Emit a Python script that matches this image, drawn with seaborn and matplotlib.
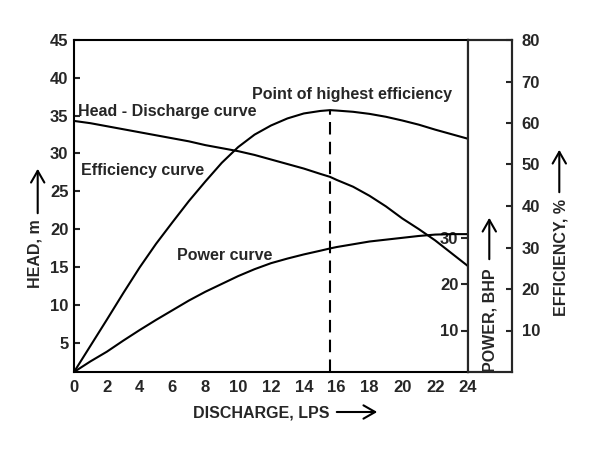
import numpy as np
import matplotlib
matplotlib.use("Agg")
import matplotlib.pyplot as plt
import seaborn as sns

# values
discharge = [0, 1, 2, 3, 4, 5, 6, 7, 8, 9, 10, 11, 12, 13, 14, 15, 15.6,
             16, 17, 18, 19, 20, 21, 22, 23, 24]
head = [34.3, 34.0, 33.6, 33.2, 32.8, 32.4, 32.0, 31.6, 31.1, 30.7, 30.3, 29.8,
        29.2, 28.6, 28.0, 27.3, 26.9, 26.5, 25.6, 24.4, 23.0, 21.4, 20.0, 18.5,
        16.8, 15.1]
efficiency = [0, 6.3, 12.6, 19.0, 25.2, 30.9, 36.1, 41.2, 45.9, 50.4, 54.2, 57.2,
              59.4, 61.1, 62.3, 62.9, 63.1, 63.0, 62.7, 62.2, 61.5, 60.6, 59.6,
              58.4, 57.3, 56.2]
power = [1.0, 3.3, 5.4, 7.8, 10.1, 12.3, 14.4, 16.5, 18.4, 20.1, 21.8, 23.3,
         24.6, 25.6, 26.5, 27.3, 27.8, 28.1, 28.7, 29.3, 29.7, 30.1, 30.5, 30.8,
         30.9, 30.9]
best_q = 15.6
best_eff = 63.1

x_ticks = list(range(0, 25, 2))
head_ticks = list(range(5, 50, 5))
eff_ticks = list(range(10, 90, 10))
power_ticks = [10, 20, 30]

sns.set_style("white")
plt.rcParams['font.family'] = ['Liberation Sans', 'DejaVu Sans']
plt.rcParams['font.weight'] = 'bold'

W, H = 600, 450


def fx(px):
    return px / W


def fy(py):
    return 1 - py / H


fig = plt.figure(figsize=(6, 4.5), dpi=100)
ax = fig.add_axes([fx(74), fy(372), (468 - 74) / W, 332 / H])
box = fig.add_axes([fx(468), fy(372), 44 / W, 332 / H])

# main axis: head
sns.lineplot(x=discharge, y=head, ax=ax, color='black', lw=1.5)
ax.set_xlim(0, 24)
ax.set_ylim(1.1, 45)
ax.set_xticks(x_ticks)
ax.set_yticks(head_ticks)
ax.tick_params(direction='in', length=4, width=1.5, labelsize=12)
ax.tick_params(axis='x', pad=6)
ax.tick_params(axis='y', pad=4)

# hidden axes for efficiency and power
ax_eff = ax.twinx()
sns.lineplot(x=discharge, y=efficiency, ax=ax_eff, color='black', lw=1.5)
ax_eff.vlines(best_q, 0, best_eff, color='black', lw=1.5, linestyles=(0, (6, 3.5)))
ax_eff.set_ylim(0, 80)
ax_eff.axis('off')

ax_pow = ax.twinx()
sns.lineplot(x=discharge, y=power, ax=ax_pow, color='black', lw=1.5)
ax_pow.set_ylim(1, 73)
ax_pow.axis('off')

for a in (ax, box):
    for s in a.spines.values():
        s.set_linewidth(1.5)
        s.set_color('black')

# right box: power on the left side, efficiency on the right side
box.set_xticks([])
box.set_ylim(1, 73)
box.set_yticks(power_ticks)
box.tick_params(axis='y', direction='out', length=5, width=1.5, labelsize=12, pad=2)
box_eff = box.twinx()
box_eff.set_ylim(0, 80)
box_eff.set_yticks(eff_ticks)
box_eff.tick_params(axis='y', direction='in', length=4, width=1.5, labelsize=12, pad=7)
for s in box_eff.spines.values():
    s.set_linewidth(1.5)

# curve notes
note = dict(fontsize=11.5, fontweight='bold', va='center', ha='left')
ax.text(0.25, 35.6, 'Head - Discharge curve', **note)
ax.text(0.4, 27.7, 'Efficiency curve', **note)
ax.text(10.82, 37.8, 'Point of highest efficiency', **note)
ax.text(6.29, 16.56, 'Power curve', **note)

# axis titles with arrows
lab = dict(fontsize=11.5, fontweight='bold', ha='center', va='center')
fig.text(fx(261), fy(413), 'DISCHARGE, LPS', **lab)
fig.text(fx(35), fy(254), 'HEAD, m', rotation=90, **lab)
fig.text(fx(490), fy(320.5), 'POWER, BHP', rotation=90, **lab)
fig.text(fx(561), fy(257.5), 'EFFICIENCY, %', rotation=90, **lab)

arrow = dict(arrowstyle='->,head_length=0.7,head_width=0.4', lw=1.5, color='black')
for (x0, y0, x1, y1) in [(334, 412, 380, 412), (37.7, 216, 37.7, 166),
                         (489.3, 262, 489.3, 215), (559.3, 195, 559.3, 147)]:
    fig.add_artist(matplotlib.patches.FancyArrowPatch(
        (fx(x0), fy(y0)), (fx(x1), fy(y1)), transform=fig.transFigure,
        mutation_scale=12, **arrow))

fig.savefig('out.png', dpi=100)
